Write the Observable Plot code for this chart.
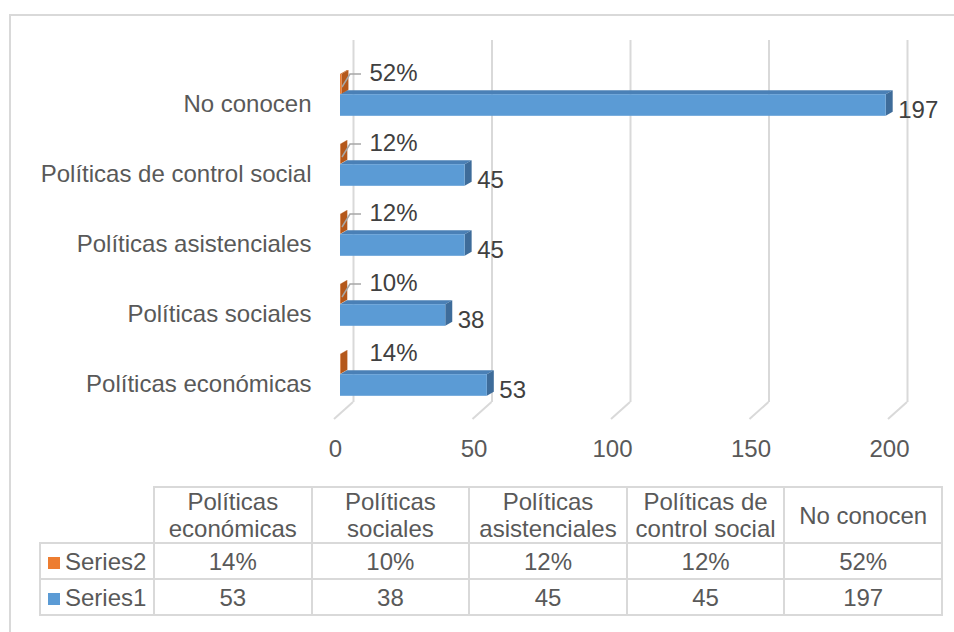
<!DOCTYPE html>
<html>
<head>
<meta charset="utf-8">
<script src="https://cdn.jsdelivr.net/npm/d3@7"></script>
<script src="https://cdn.jsdelivr.net/npm/@observablehq/plot@0.6"></script>
<style>
  html, body { margin: 0; padding: 0; background: #fff; width: 954px; height: 632px; overflow: hidden;
    font-family: "Liberation Sans", Arial, sans-serif; color: #595959; }
  #frame { position: absolute; left: 9px; top: 14px; width: 1000px; height: 700px;
    border: 2px solid #D9D9D9; box-sizing: border-box; }
  #chart { position: absolute; left: 0; top: 0; }
  #tbl { position: absolute; left: 39px; top: 486px; border-collapse: collapse; table-layout: fixed;
    width: 902px; font-size: 24px; color: #595959; }
  #tbl td { border: 2px solid #D9D9D9; text-align: center; padding: 0; line-height: 27px; overflow: hidden; white-space: normal; }
  #tbl tr.head td { height: 52px; }
  #tbl tr.row td { height: 34px; }
  #tbl td.blank { border-top: none; border-left: none; }
  #tbl td.leg { text-align: left; padding-left: 7px; white-space: nowrap; }
  #tbl td.leg span.sw { display: inline-block; width: 12px; height: 12px; margin-right: 5px; vertical-align: 1px; }
</style>
</head>
<body>
<div id="frame"></div>
<div id="chart"></div>
<table id="tbl"></table>
<script>
// ---- data ----
const categories = ["Políticas económicas", "Políticas sociales", "Políticas asistenciales", "Políticas de control social", "No conocen"];
const series1 = [53, 38, 45, 45, 197];
const series2 = [0.14, 0.10, 0.12, 0.12, 0.52];
const series2Labels = ["14%", "10%", "12%", "12%", "52%"];
const seriesNames = ["Series1", "Series2"];
const xTicks = [0, 50, 100, 150, 200];

// ---- styles ----
const BLUE = "#5B9BD5", BLUE_TOP = "#4A80B6", BLUE_SIDE = "#3E6C9A";
const ORANGE = "#ED7D31", ORANGE_TOP = "#C9651F", ORANGE_SIDE = "#B4581B";
const GRID = "#D9D9D9";
const BLUE_INSET = 24.2, OR_TOP = 4, OR_BOTTOM = 46.2;
const DX = 7, DY = 4;

const data = categories.map((c, i) => ({category: c, s1: series1[i], s2: series2[i], s2label: series2Labels[i], i}));
const yOrder = categories.slice().reverse();

function floorLines(index, scales, values, dims) {
  const g = d3.create("svg:g").attr("stroke", GRID).attr("stroke-width", 2).attr("fill", "none");
  const yb = dims.height - dims.marginBottom;
  for (const t of xTicks) {
    const xx = scales.x(t);
    g.append("path").attr("d", `M${xx + 13},${yb - 19}L${xx - 6},${yb - 2}`);
  }
  return g.node();
}

function bw(s) { return typeof s.bandwidth === "function" ? s.bandwidth() : s.bandwidth; }

function depthFaces(index, scales, values, dims) {
  const g = d3.create("svg:g");
  const b = bw(scales.y);
  const x0 = scales.x(0);
  const face = (xa, xb, ya, yb, top, side) => {
    g.append("path").attr("fill", top)
      .attr("d", `M${xa},${ya}L${xb},${ya}L${xb + DX},${ya - DY}L${xa + DX},${ya - DY}Z`);
    g.append("path").attr("fill", side)
      .attr("d", `M${xb},${ya}L${xb + DX},${ya - DY}L${xb + DX},${yb - DY}L${xb},${yb}Z`);
  };
  for (const d of data) {
    const yt = scales.y(d.category);
    face(x0, scales.x(d.s1), yt + BLUE_INSET, yt + b - BLUE_INSET, BLUE_TOP, BLUE_SIDE);
  }
  for (const d of data) {
    const yt = scales.y(d.category);
    face(x0, scales.x(d.s2), yt + OR_TOP, yt + b - OR_BOTTOM, ORANGE_TOP, ORANGE_SIDE);
  }
  // leader lines for series2 labels
  const lg = g.append("g").attr("stroke", "#A6A6A6").attr("stroke-width", 1.5).attr("fill", "none");
  for (const d of data) {
    if (d.i === 0) continue;
    const yc = scales.y(d.category) + b / 2;
    lg.append("path").attr("d", `M${x0 + 2},${yc - 18}L${x0 + 10},${yc - 31}L${x0 + 21},${yc - 31}`);
  }
  return g.node();
}

const chart = Plot.plot({
  width: 954,
  height: 470,
  marginLeft: 340,
  marginRight: 60,
  marginTop: 69,
  marginBottom: 49,
  x: {domain: [0, 200], axis: null},
  y: {domain: yOrder, axis: null, padding: 0},
  style: {fontFamily: "'Liberation Sans', Arial, sans-serif", fontSize: "24px", color: "#595959", background: "transparent", overflow: "visible"},
  marks: [
    Plot.ruleX(xTicks, {x: d => d, dx: 13, stroke: GRID, strokeWidth: 2, insetTop: -29, insetBottom: 19}),
    floorLines,
    Plot.axisX({ticks: xTicks, tickSize: 0, tickPadding: 18, dx: -5, label: null, fill: "#595959"}),
    Plot.axisY({tickSize: 0, tickPadding: 29, dy: -1, label: null, fill: "#595959"}),
    depthFaces,
    Plot.barX(data, {x1: 0, x2: "s1", y: "category", fill: BLUE, insetTop: BLUE_INSET, insetBottom: BLUE_INSET}),
    Plot.barX(data, {x1: 0, x2: "s2", y: "category", fill: ORANGE, insetTop: OR_TOP, insetBottom: OR_BOTTOM}),
    Plot.text(data, {x: "s1", y: "category", text: d => String(d.s1), dx: 12, dy: 5, textAnchor: "start", fill: "#404040"}),
    Plot.text(data, {x: 0, y: "category", text: "s2label", dx: 29, dy: -32, textAnchor: "start", fill: "#404040"})
  ]
});
document.getElementById("chart").appendChild(chart);

// ---- data table ----
const tbl = d3.select("#tbl");
const cg = tbl.append("colgroup");
cg.append("col").style("width", "114px");
categories.forEach(() => cg.append("col").style("width", "157.6px"));
const head = tbl.append("tr").attr("class", "head");
head.append("td").attr("class", "blank");
categories.forEach(c => head.append("td").text(c));
const rows = [
  {name: seriesNames[1], color: ORANGE, vals: series2Labels},
  {name: seriesNames[0], color: BLUE, vals: series1.map(String)}
];
for (const r of rows) {
  const tr = tbl.append("tr").attr("class", "row");
  const leg = tr.append("td").attr("class", "leg");
  leg.append("span").attr("class", "sw").style("background", r.color);
  leg.append("span").text(r.name);
  r.vals.forEach(v => tr.append("td").text(v));
}
</script>
</body>
</html>
